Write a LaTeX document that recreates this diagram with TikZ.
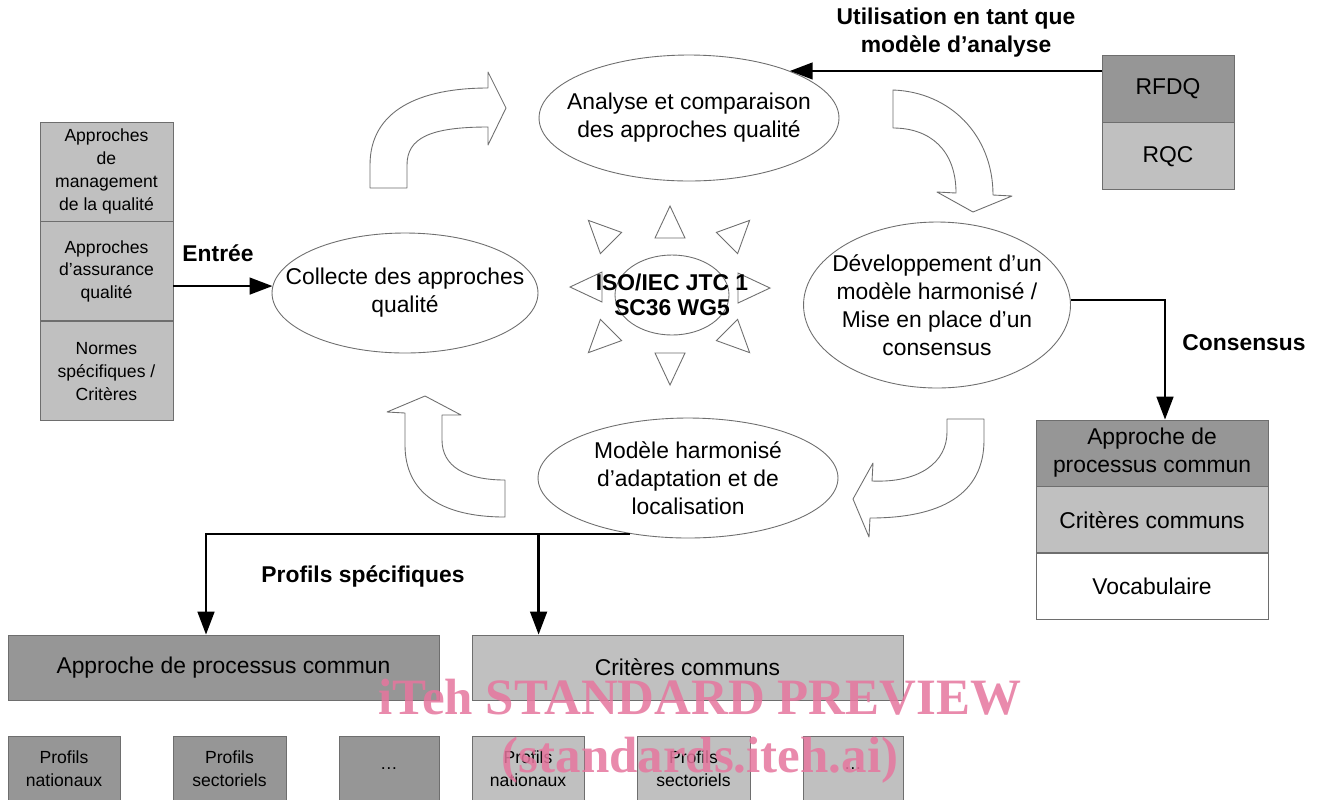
\documentclass[tikz,border=0pt]{standalone}
\usepackage{fontspec}
\setmainfont{Liberation Sans}
\newfontfamily\filigrane{Liberation Serif}
\usepackage{tikz}
\usetikzlibrary{arrows.meta,shapes.geometric,positioning,calc}
\definecolor{grisfonce}{RGB}{150,150,150}
\definecolor{grisclair}{RGB}{192,192,192}
\definecolor{trait}{RGB}{110,110,110}
\definecolor{rose}{RGB}{230,118,158}
\tikzset{
  bulle/.style={ellipse,draw=trait,line width=0.5pt,fill=white,inner xsep=-1cm,inner ysep=-0.3cm,align=center,font=\fontsize{13}{16}\selectfont},
  case/.style={rectangle,draw=trait,line width=0.5pt,align=center,inner sep=0pt},
  petit/.style={font=\fontsize{10}{13}\selectfont},
  moyen/.style={font=\fontsize{13}{16}\selectfont},
  etiq/.style={align=center,font=\bfseries\fontsize{13}{16}\selectfont},
  fleche/.style={-{Triangle[length=13pt,width=9.5pt]},line width=1.3pt,black},
  bloc/.style={draw=trait,line width=0.5pt,fill=white,line join=round},
  rayon/.style={draw=trait,line width=0.5pt,fill=white}
}

\begin{document}
\begin{tikzpicture}[x=0.02cm,y=-0.02cm]
\path[use as bounding box,fill=white] (0,0) rectangle (1317,799);

% les quatre etapes du cycle
\node[bulle,minimum width=5.32cm,minimum height=2.4cm] (collecte) at (405,293) {Collecte des approches\\qualité};
\node[bulle,minimum width=6cm,minimum height=2.52cm] (analyse) at (689,118) {Analyse et comparaison\\des approches qualité};
\node[bulle,minimum width=5.34cm,minimum height=3.32cm] (developpement) at (937,305) {Développement d’un\\modèle harmonisé /\\Mise en place d’un\\consensus};
\node[bulle,minimum width=6cm,minimum height=2.4cm] (modele) at (688,478) {Modèle harmonisé\\d’adaptation et de\\localisation};

% fleches courbes du cycle
\draw[bloc] (370,188) -- (407,188) -- (407,165) .. controls (407,138) and (430,127) .. (488,127) -- (488,145) -- (506,108) -- (488,72) -- (488,88) .. controls (420,88) and (370,110) .. (370,165) -- cycle;
\draw[bloc] (893,90) .. controls (950,92) and (993,135) .. (993,195) -- (1012,196) -- (973,212) -- (937,192) -- (956,193) .. controls (956,150) and (930,128) .. (893,128) -- cycle;
\draw[bloc] (947,419) -- (984,419) -- (984,440) .. controls (984,495) and (940,518) .. (870,518) -- (869,537) -- (853,499) -- (873,463) -- (872,481) .. controls (920,483) and (947,462) .. (947,432) -- cycle;
\draw[bloc] (405,413) -- (405,445) .. controls (405,492) and (440,517) .. (505,517) -- (505,480) .. controls (465,480) and (442,466) .. (442,440) -- (442,415) -- (461,415) -- (425,396) -- (387,412) -- cycle;

% soleil central
\foreach \x/\y/\a in {670/238/90, 670/353/270, 602/287/180, 738/288/0, 611/243/135, 727/243/45, 611/330/225, 727/330/315}
  \draw[rayon,shift={(\x,\y)},rotate=\a] (0,15) -- (32,0) -- (0,-15) -- cycle;
\node[bulle,fill=none,minimum width=2.28cm,minimum height=1.6cm,font=\bfseries\fontsize{13}{14}\selectfont] (groupe) at (672,295) {ISO/IEC JTC 1\\SC36 WG5};

% entrees a gauche
\node[case,petit,fill=grisclair,minimum width=2.66cm,minimum height=1.98cm] (management) at (106.5,171.5) {Approches\\de\\management\\de la qualité};
\node[case,petit,fill=grisclair,minimum width=2.66cm,minimum height=1.98cm,below=0pt of management] (assurance) {Approches\\d’assurance\\qualité};
\node[case,petit,fill=grisclair,minimum width=2.66cm,minimum height=1.98cm,below=0pt of assurance] (normes) {Normes\\spécifiques /\\Critères};
\draw[fleche] (assurance.east |- collecte.177) -- (collecte.177);
\node[etiq] (entree) at (218,253) {Entrée};

% modeles d'analyse
\node[case,moyen,fill=grisfonce,minimum width=2.64cm,minimum height=1.34cm] (rfdq) at (1168,88.5) {RFDQ};
\node[case,moyen,fill=grisclair,minimum width=2.64cm,minimum height=1.34cm,below=0pt of rfdq] (rqc) {RQC};
\draw[fleche] (rfdq.west |- analyse.25) -- (analyse.25);
\node[etiq] (utilisation) at (956,33) {Utilisation en tant que\\modèle d’analyse};

% consensus
\node[case,moyen,fill=grisfonce,minimum width=4.64cm,minimum height=1.32cm] (approche) at (1152,453) {Approche de\\processus commun};
\node[case,moyen,fill=grisclair,minimum width=4.64cm,minimum height=1.32cm,below=0pt of approche] (communs) {Critères communs};
\node[case,moyen,fill=white,minimum width=4.64cm,minimum height=1.32cm,below=0pt of communs] (vocabulaire) {Vocabulaire};
\draw[fleche] (developpement.2) -| ([xshift=0.26cm]approche.north);
\node[etiq] (consensus) at (1244,343) {Consensus};

% profils specifiques
\node[case,moyen,fill=grisfonce,minimum width=8.62cm,minimum height=1.3cm] (processus) at (223.5,667.5) {Approche de processus commun};
\node[case,moyen,fill=grisclair,minimum width=8.62cm,minimum height=1.3cm] (criteres) at (687.5,667.5) {Critères communs};
\draw[fleche] (modele.224) -| ([xshift=-0.35cm]processus.north);
\draw[fleche] ([xshift=1.34cm]criteres.north west |- modele.224) -- ([xshift=1.34cm]criteres.north west);
\node[etiq] (profils) at (363,576) {Profils spécifiques};
\foreach \nom/\cx/\lg/\coul/\txt in {natA/64/2.24/grisfonce/{Profils\\nationaux}, secA/229.5/2.26/grisfonce/{Profils\\sectoriels}, autA/389/2.0/grisfonce/{\ldots}, natB/528/2.24/grisclair/{Profils\\nationaux}, secB/693.5/2.26/grisclair/{Profils\\sectoriels}, autB/853/2.0/grisclair/{\ldots}}
  \node[case,petit,fill=\coul,minimum width=\lg cm,minimum height=1.32cm] (\nom) at (\cx,769) {\txt};

% filigrane
\node[text=rose,text opacity=0.85,font=\filigrane\bfseries\fontsize{29}{32}\selectfont] (filigraneA) at (700,697) {iTeh STANDARD PREVIEW};
\node[text=rose,text opacity=0.85,font=\filigrane\bfseries\fontsize{29}{32}\selectfont] (filigraneB) at (700,760) {(standards.iteh.ai)};
\end{tikzpicture}
\end{document}
